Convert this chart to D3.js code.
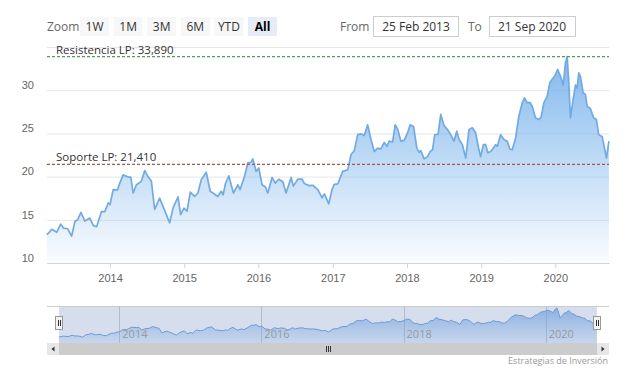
<!DOCTYPE html>
<html>
<head>
<meta charset="utf-8">
<script src="https://cdn.jsdelivr.net/npm/d3@7"></script>
<style>
  body { margin: 0; background: #fff; }
  svg { display: block; font-family: "Open Sans", sans-serif; }
</style>
</head>
<body>
<svg id="chart" width="626" height="376"></svg>
<script>
// price history (decimal years / closing price)
var times = [
  2013.148, 2013.177, 2013.214, 2013.281, 2013.335, 2013.371, 2013.429, 2013.482, 2013.527, 2013.563,
  2013.608, 2013.661, 2013.728, 2013.774, 2013.819, 2013.886, 2013.930, 2013.976, 2014.000, 2014.043,
  2014.101, 2014.132, 2014.177, 2014.245, 2014.280, 2014.312, 2014.356, 2014.423, 2014.468, 2014.513,
  2014.558, 2014.602, 2014.669, 2014.715, 2014.759, 2014.804, 2014.849, 2014.917, 2014.952, 2014.997,
  2015.038, 2015.082, 2015.140, 2015.185, 2015.230, 2015.297, 2015.351, 2015.387, 2015.454, 2015.499,
  2015.525, 2015.556, 2015.602, 2015.633, 2015.664, 2015.723, 2015.754, 2015.812, 2015.858, 2015.902,
  2015.925, 2015.969, 2016.005, 2016.050, 2016.094, 2016.126, 2016.184, 2016.228, 2016.274, 2016.328,
  2016.372, 2016.440, 2016.470, 2016.530, 2016.587, 2016.618, 2016.685, 2016.731, 2016.798, 2016.856,
  2016.887, 2016.946, 2016.990, 2017.020, 2017.067, 2017.134, 2017.202, 2017.246, 2017.290, 2017.336,
  2017.380, 2017.425, 2017.470, 2017.515, 2017.559, 2017.605, 2017.649, 2017.694, 2017.730, 2017.761,
  2017.806, 2017.841, 2017.874, 2017.918, 2017.962, 2018.008, 2018.043, 2018.089, 2018.133, 2018.164,
  2018.187, 2018.231, 2018.277, 2018.312, 2018.344, 2018.375, 2018.419, 2018.456, 2018.500, 2018.546,
  2018.590, 2018.634, 2018.671, 2018.702, 2018.747, 2018.792, 2018.836, 2018.882, 2018.926, 2018.970,
  2018.993, 2019.030, 2019.060, 2019.091, 2019.128, 2019.164, 2019.195, 2019.218, 2019.262, 2019.306,
  2019.352, 2019.387, 2019.419, 2019.464, 2019.508, 2019.554, 2019.585, 2019.621, 2019.656, 2019.688,
  2019.732, 2019.777, 2019.809, 2019.844, 2019.890, 2019.925, 2019.970, 2020.001, 2020.032, 2020.069,
  2020.105, 2020.136, 2020.159, 2020.180, 2020.203, 2020.239, 2020.270, 2020.293, 2020.315, 2020.337,
  2020.374, 2020.405, 2020.427, 2020.472, 2020.516, 2020.552, 2020.583, 2020.629, 2020.687, 2020.720
];
var prices = [
  13.3, 13.5, 13.9, 13.55, 14.5, 14.05, 13.95, 13.1, 14.8, 15.0,
  15.85, 14.85, 15.2, 14.35, 14.2, 15.95, 15.95, 16.95, 16.75, 18.5,
  18.45, 19.25, 20.2, 19.95, 19.95, 18.1, 19.05, 19.45, 20.7, 20.0,
  19.45, 16.2, 17.5, 16.55, 15.6, 14.65, 16.35, 17.65, 15.6, 16.35,
  16.0, 18.2, 17.7, 18.1, 19.65, 20.5, 18.3, 18.1, 17.7, 18.3,
  17.9, 19.2, 20.1, 19.05, 18.1, 19.05, 18.5, 20.0, 21.6, 21.65,
  22.05, 20.6, 21.0, 19.05, 18.8, 18.1, 19.9, 19.25, 19.7, 19.4,
  18.1, 19.9, 18.9, 19.7, 19.7, 19.2, 18.95, 19.0, 18.5, 17.55,
  18.0, 16.85, 18.5, 19.1, 19.15, 20.6, 20.8, 22.55, 23.0, 24.85,
  24.95, 24.75, 26.0, 24.3, 22.9, 23.3, 23.2, 23.95, 23.5, 24.1,
  24.0, 26.0, 25.5, 24.1, 24.2, 25.05, 26.0, 25.8, 23.3, 22.8,
  23.0, 22.05, 22.3, 22.9, 23.1, 24.85, 24.9, 27.2, 25.9, 25.45,
  24.85, 24.1, 25.25, 24.3, 23.7, 22.15, 25.45, 25.65, 25.05, 23.1,
  22.3, 23.7, 23.7, 22.75, 22.9, 23.3, 23.7, 23.5, 24.85, 24.3,
  24.1, 23.2, 23.1, 24.45, 27.0, 28.55, 29.1, 28.55, 28.6, 28.15,
  26.8, 26.6, 26.9, 28.5, 29.3, 30.85, 31.4, 31.8, 32.4, 31.6,
  30.6, 33.15, 33.89, 31.0, 26.8, 28.9, 30.6, 30.25, 32.0, 31.6,
  29.7, 29.5, 28.15, 27.85, 26.8, 26.6, 24.85, 24.65, 22.15, 24.1
];
var yTicks = [10, 15, 20, 25, 30];
var yGrid = [10, 15, 20, 25, 30, 35];
var navYears = [2014, 2016, 2018, 2020];
var zoomButtons = ['1W', '1M', '3M', '6M', 'YTD', 'All'];
var fromText = '25 Feb 2013', toText = '21 Sep 2020';
var resistance = 33.89, support = 21.41;
var resistanceLabel = 'Resistencia LP: 33,890', supportLabel = 'Soporte LP: 21,410';

function toDate(t) {
  var yr = Math.floor(t);
  var s = Date.UTC(yr, 0, 1), e = Date.UTC(yr + 1, 0, 1);
  return new Date(s + (t - yr) * (e - s));
}
var data = times.map(function (t, i) { return { date: toDate(t), value: prices[i] }; });

var svg = d3.select('#chart');
var margin = { top: 47, left: 47 };
var width = 562, height = 216;
var startDate = new Date(Date.UTC(2013, 1, 25)), endDate = new Date(Date.UTC(2020, 8, 21));

var x = d3.scaleUtc().domain([startDate, endDate]).range([0, width]);
var y = d3.scaleLinear().domain([10, 35]).range([height, 0]);

var defs = svg.append('defs');
var grad = defs.append('linearGradient').attr('id', 'areaGrad')
  .attr('gradientUnits', 'userSpaceOnUse').attr('x1', 0).attr('x2', 0)
  .attr('y1', y(34)).attr('y2', height);
grad.append('stop').attr('offset', 0).attr('stop-color', '#7cb5ec').attr('stop-opacity', 0.95);
grad.append('stop').attr('offset', 1).attr('stop-color', '#7cb5ec').attr('stop-opacity', 0.04);
var navGrad = defs.append('linearGradient').attr('id', 'navGrad')
  .attr('gradientUnits', 'userSpaceOnUse').attr('x1', 0).attr('x2', 0)
  .attr('y1', 306).attr('y2', 343);
navGrad.append('stop').attr('offset', 0).attr('stop-color', '#6fa6e6').attr('stop-opacity', 0.75);
navGrad.append('stop').attr('offset', 1).attr('stop-color', '#7cb5ec').attr('stop-opacity', 0.15);

var g = svg.append('g').attr('transform', 'translate(' + margin.left + ',' + margin.top + ')');

// horizontal grid
var grid = g.append('g').call(d3.axisLeft(y).tickValues(yGrid).tickSize(-width).tickFormat(''));
grid.select('.domain').remove();
grid.selectAll('line').attr('stroke', '#e6e6e6');

// y labels
var yAx = g.append('g').call(d3.axisLeft(y).tickValues(yTicks).tickSize(0).tickPadding(13));
yAx.select('.domain').remove();
yAx.selectAll('text').attr('fill', '#666').style('font-size', '11px').attr('dy', '-0.15em');

// area + line
g.append('path').datum(data)
  .attr('fill', 'url(#areaGrad)')
  .attr('d', d3.area().x(function (d) { return x(d.date); }).y0(height).y1(function (d) { return y(d.value); }));
g.append('path').datum(data)
  .attr('fill', 'none').attr('stroke', '#72aae2').attr('stroke-width', 1.7).attr('stroke-linejoin', 'round')
  .attr('d', d3.line().x(function (d) { return x(d.date); }).y(function (d) { return y(d.value); }));

// x axis
var xAx = g.append('g').attr('transform', 'translate(0,' + height + ')')
  .call(d3.axisBottom(x).ticks(d3.utcYear.every(1)).tickFormat(d3.utcFormat('%Y')).tickSize(5).tickSizeOuter(0).tickPadding(6));
xAx.select('.domain').attr('stroke', '#ccd6eb');
xAx.selectAll('line').attr('stroke', '#ccd6eb');
xAx.selectAll('text').attr('fill', '#666').style('font-size', '11px');

// support / resistance
g.append('line').attr('x1', 0).attr('x2', width).attr('y1', y(resistance)).attr('y2', y(resistance))
  .attr('stroke', '#4f9f4f').attr('stroke-width', 1.3).attr('stroke-dasharray', '3,2');
g.append('line').attr('x1', 0).attr('x2', width).attr('y1', y(support)).attr('y2', y(support))
  .attr('stroke', '#a85555').attr('stroke-width', 1.3).attr('stroke-dasharray', '3,2');
g.append('text').attr('x', 9).attr('y', y(resistance) - 3).attr('fill', '#333').style('font-size', '11.5px').text(resistanceLabel);
g.append('text').attr('x', 9).attr('y', y(support) - 3).attr('fill', '#333').style('font-size', '11.5px').text(supportLabel);

// range selector
var selector = svg.append('g').style('font-size', '12px');
selector.append('text').attr('x', 47).attr('y', 31).attr('fill', '#666').text('Zoom');
zoomButtons.forEach(function (b, i) {
  var bx = 80 + i * 33.6;
  var sel = b === 'All';
  selector.append('rect').attr('x', bx).attr('y', 17).attr('width', 29).attr('height', 19)
    .attr('fill', sel ? '#e6ebf5' : '#f7f7f7');
  selector.append('text').attr('x', bx + 14.5).attr('y', 31).attr('text-anchor', 'middle')
    .attr('fill', sel ? '#000' : '#333').style('font-weight', sel ? 'bold' : 'normal').text(b);
});
selector.append('text').attr('x', 340).attr('y', 31).attr('fill', '#666').text('From');
selector.append('rect').attr('x', 373.5).attr('y', 16.5).attr('width', 85).attr('height', 20).attr('fill', '#fff').attr('stroke', '#ccc');
selector.append('text').attr('x', 416).attr('y', 31).attr('text-anchor', 'middle').attr('fill', '#333').text(fromText);
selector.append('text').attr('x', 468).attr('y', 31).attr('fill', '#666').text('To');
selector.append('rect').attr('x', 489.5).attr('y', 16.5).attr('width', 86).attr('height', 20).attr('fill', '#fff').attr('stroke', '#ccc');
selector.append('text').attr('x', 532).attr('y', 31).attr('text-anchor', 'middle').attr('fill', '#333').text(toText);

// navigator
var nTop = 306, nBot = 343;
var xn = d3.scaleUtc().domain([startDate, endDate]).range([59, 597]);
var yn = d3.scaleLinear().domain([9, 35.3]).range([nBot, nTop]);
var nav = svg.append('g');
navYears.forEach(function (yr) {
  var d = new Date(Date.UTC(yr, 0, 1));
  nav.append('line').attr('x1', Math.round(xn(d)) + 0.5).attr('x2', Math.round(xn(d)) + 0.5)
    .attr('y1', nTop).attr('y2', nBot).attr('stroke', '#d0d0d0');
});
nav.append('path').datum(data)
  .attr('fill', 'url(#navGrad)')
  .attr('d', d3.area().x(function (d) { return xn(d.date); }).y0(nBot).y1(function (d) { return yn(d.value); }));
nav.append('path').datum(data)
  .attr('fill', 'none').attr('stroke', '#6ea3dc').attr('stroke-width', 1)
  .attr('d', d3.line().x(function (d) { return xn(d.date); }).y(function (d) { return yn(d.value); }));
nav.append('rect').attr('x', 59).attr('y', nTop).attr('width', 538).attr('height', nBot - nTop)
  .attr('fill', 'rgba(102,133,194,0.27)');
navYears.forEach(function (yr) {
  var d = new Date(Date.UTC(yr, 0, 1));
  nav.append('text').attr('x', xn(d) + 3).attr('y', 338).attr('fill', '#999').style('font-size', '11px').text(yr);
});
nav.append('line').attr('x1', 47).attr('x2', 609).attr('y1', nTop + 0.5).attr('y2', nTop + 0.5).attr('stroke', '#ccc');
[59, 597].forEach(function (hx) {
  nav.append('rect').attr('x', hx - 3.5).attr('y', 316.5).attr('width', 7).attr('height', 13)
    .attr('fill', '#f2f2f2').attr('stroke', '#999');
  [-1, 1].forEach(function (o) {
    nav.append('line').attr('x1', hx + o + 0.5).attr('x2', hx + o + 0.5).attr('y1', 320).attr('y2', 326).attr('stroke', '#333');
  });
});

// scrollbar
var sb = svg.append('g');
sb.append('rect').attr('x', 47).attr('y', 343).attr('width', 562).attr('height', 12).attr('fill', '#f2f2f2');
sb.append('rect').attr('x', 59).attr('y', 343).attr('width', 538).attr('height', 12).attr('fill', '#cccccc');
sb.append('rect').attr('x', 47).attr('y', 343).attr('width', 12).attr('height', 12).attr('fill', '#e6e6e6');
sb.append('rect').attr('x', 597).attr('y', 343).attr('width', 12).attr('height', 12).attr('fill', '#e6e6e6');
sb.append('path').attr('d', 'M54.5,346.5 L51.5,349 L54.5,351.5 Z').attr('fill', '#333');
sb.append('path').attr('d', 'M601.5,346.5 L604.5,349 L601.5,351.5 Z').attr('fill', '#333');
[-2, 0, 2].forEach(function (o) {
  sb.append('line').attr('x1', 328 + o + 0.5).attr('x2', 328 + o + 0.5).attr('y1', 346).attr('y2', 352).attr('stroke', '#333');
});

// credits
svg.append('text').attr('x', 608).attr('y', 364).attr('text-anchor', 'end')
  .attr('fill', '#999').style('font-size', '9px').text('Estrategias de Inversión');
</script>
</body>
</html>
